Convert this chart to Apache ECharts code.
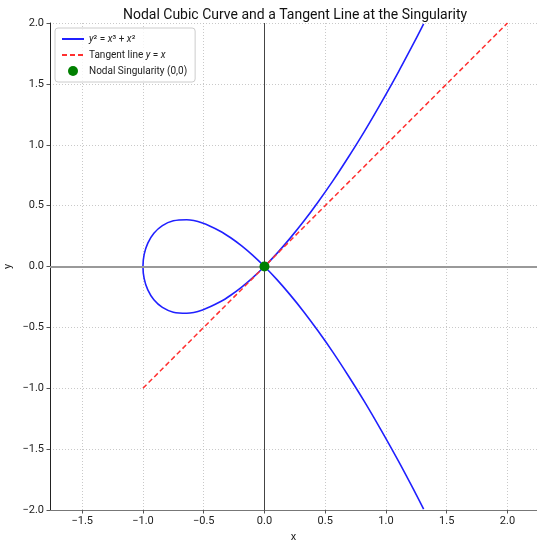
<!DOCTYPE html>
<html><head><meta charset="utf-8">
<script src="https://cdn.jsdelivr.net/npm/echarts@6/dist/echarts.min.js"></script>
<style>html,body{margin:0;padding:0;background:#fff}#c{width:537px;height:540px}</style>
</head><body><div id="c"></div>
<script>
// Nodal cubic y^2 = x^3 + x^2 (lower-right branch -> loop -> upper-right branch)
const curveX = [1.310, 1.250, 1.103, 0.960, 0.823, 0.690, 0.563, 0.440, 0.323, 0.210, 0.103, 0.000,
  -0.098, -0.190, -0.278, -0.360, -0.510, -0.640, -0.750, -0.840, -0.910, -0.960, -0.990, -1.000,
  -0.990, -0.960, -0.910, -0.840, -0.750, -0.640, -0.510, -0.360, -0.278, -0.190, -0.098,
  0.000, 0.103, 0.210, 0.323, 0.440, 0.563, 0.690, 0.823, 0.960, 1.103, 1.250, 1.310];
const curveY = [-1.992, -1.875, -1.599, -1.344, -1.110, -0.897, -0.703, -0.528, -0.371, -0.231, -0.108, 0.000,
  0.093, 0.171, 0.236, 0.288, 0.357, 0.384, 0.375, 0.336, 0.273, 0.192, 0.099, 0.000,
  -0.099, -0.192, -0.273, -0.336, -0.375, -0.384, -0.357, -0.288, -0.236, -0.171, -0.093,
  0.000, 0.108, 0.231, 0.371, 0.528, 0.703, 0.897, 1.110, 1.344, 1.599, 1.875, 1.992];
const tangentX = [-1, 2];
const tangentY = [-1, 2];
const nodeX = [0];
const nodeY = [0];
const xTicks = [-1.5, -1.0, -0.5, 0.0, 0.5, 1.0, 1.5, 2.0];

const names = ['y² = x³ + x²', 'Tangent line y = x', 'Nodal Singularity (0,0)'];
const FONT = 'Roboto, "DejaVu Sans", sans-serif';
const fmt = v => (Math.abs(v) < 1e-9 ? 0 : v).toFixed(1).replace('-', '\u2212');
const zip = (a, b) => a.map((v, i) => [v, b[i]]);

const chart = echarts.init(document.getElementById('c'), null, {renderer: 'canvas'});
chart.setOption({
  animation: false,
  backgroundColor: '#fff',
  textStyle: {fontFamily: FONT},
  title: {
    text: 'Nodal Cubic Curve and a Tangent Line at the Singularity',
    left: 290, top: 3, textAlign: 'center',
    textStyle: {fontFamily: FONT, fontSize: 14, fontWeight: 'normal', color: '#111'}
  },
  grid: {left: 50, right: 0, top: 23, bottom: 30, containLabel: false, outerBoundsMode: 'none'},
  legend: {
    orient: 'vertical', left: 55, top: 28,
    data: [
      {name: names[0], itemStyle: {opacity: 0}},
      {name: names[1], itemStyle: {opacity: 0}},
      {name: names[2], itemStyle: {opacity: 1}}
    ],
    itemWidth: 22, itemHeight: 10, itemGap: 6,
    padding: [6, 8, 6, 6],
    backgroundColor: 'rgba(255,255,255,0.8)',
    borderColor: '#cccccc', borderWidth: 1, borderRadius: 3,
    formatter: n => {
      if (n === names[0]) return '{i|y}² = {i|x}³ + {i|x}²';
      if (n === names[1]) return 'Tangent line {i|y} = {i|x}';
      return n;
    },
    textStyle: {fontFamily: FONT, fontSize: 10, color: '#222',
      rich: {i: {fontFamily: FONT, fontSize: 10, fontStyle: 'italic', color: '#222'}}}
  },
  xAxis: {
    type: 'value', min: -1.765, max: 2.243,
    name: 'x', nameLocation: 'middle', nameGap: 22, nameMoveOverlap: false,
    nameTextStyle: {fontFamily: FONT, fontSize: 11, color: '#222'},
    axisLine: {onZero: false, lineStyle: {color: '#777', width: 1.2}},
    axisTick: {show: true, length: 3.5, customValues: xTicks, lineStyle: {color: '#555'}},
    axisLabel: {customValues: xTicks, formatter: fmt, fontFamily: FONT, fontSize: 11, color: '#222', margin: 6},
    splitLine: {show: true, lineStyle: {color: '#bbbbbb', type: [1, 2], width: 0.8}}
  },
  yAxis: {
    type: 'value', min: -2, max: 2, interval: 0.5,
    name: 'y', nameLocation: 'middle', nameGap: 36, nameRotate: 90, nameMoveOverlap: false,
    nameTextStyle: {fontFamily: FONT, fontSize: 11, color: '#222'},
    axisLine: {show: true, onZero: false, lineStyle: {color: '#222', width: 1}},
    axisTick: {show: true, length: 3.5, lineStyle: {color: '#555'}},
    axisLabel: {formatter: fmt, fontFamily: FONT, fontSize: 11, color: '#222', margin: 6},
    splitLine: {show: true, lineStyle: {color: '#bbbbbb', type: [1, 2], width: 0.8}}
  },
  series: [
    {
      type: 'line', name: '__axes', data: [], z: 1, silent: true,
      markLine: {
        silent: true, symbol: 'none', label: {show: false},
        data: [
          {yAxis: 0, lineStyle: {color: '#999', width: 1.8, type: 'solid'}},
          {xAxis: 0, lineStyle: {color: '#444', width: 1, type: 'solid'}}
        ]
      }
    },
    {
      type: 'line', name: names[0], data: zip(curveX, curveY), z: 3,
      smooth: 0.3, showSymbol: false, symbol: 'none',
      lineStyle: {color: '#2020ff', width: 1.6}, itemStyle: {color: '#2020ff'}
    },
    {
      type: 'line', name: names[1], data: zip(tangentX, tangentY), z: 4,
      showSymbol: false, symbol: 'none',
      lineStyle: {color: '#ff3030', width: 1.5, type: [5, 3]}, itemStyle: {color: '#ff3030'}
    },
    {
      type: 'scatter', name: names[2], data: zip(nodeX, nodeY), z: 5,
      symbol: 'circle', symbolSize: 10,
      itemStyle: {color: '#008000', opacity: 1}
    }
  ]
});
</script></body></html>
